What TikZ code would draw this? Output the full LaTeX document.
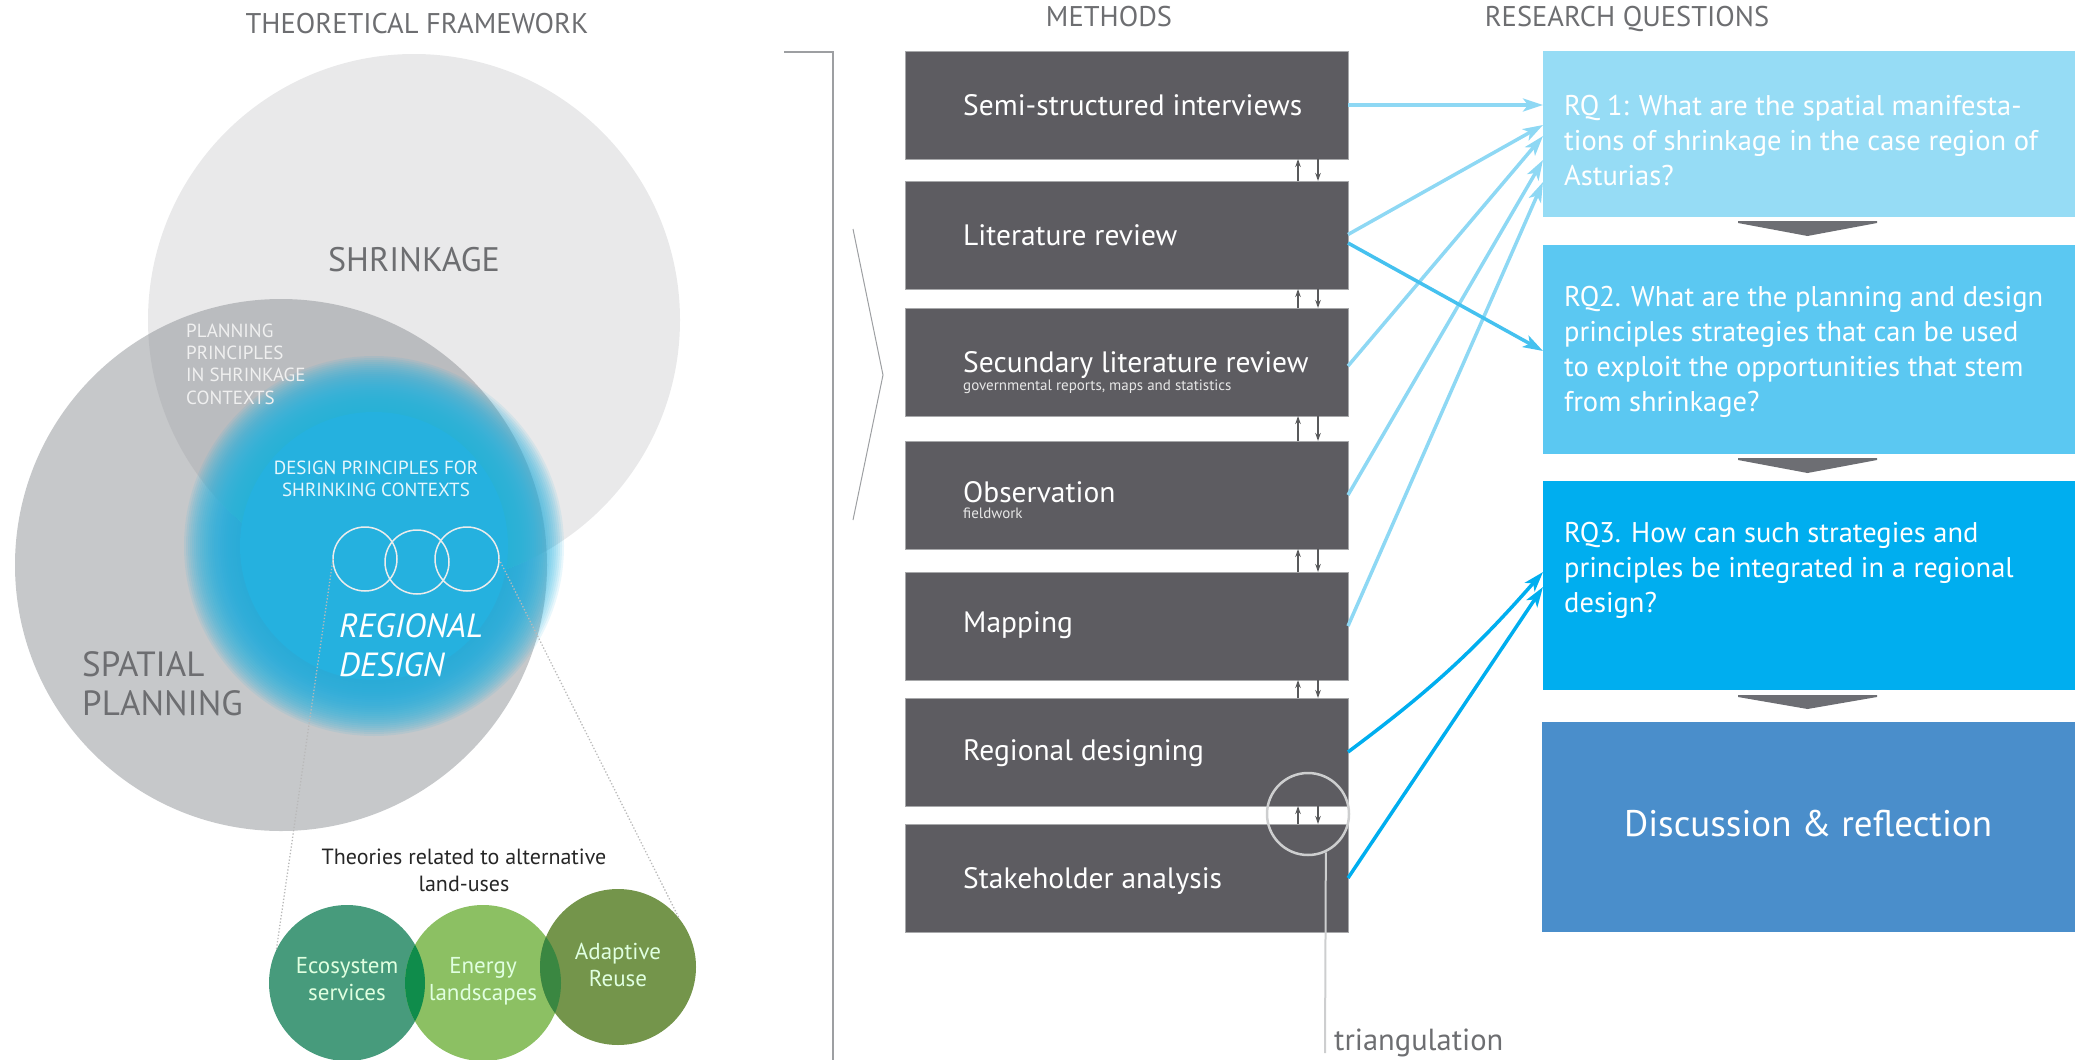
\documentclass[tikz,border=0pt]{standalone}
\usepackage{fontspec}
\setmainfont{PT Sans}
\usetikzlibrary{arrows.meta,calc}
\definecolor{hdr}{HTML}{6D6E71}
\definecolor{mgray}{HTML}{5D5C61}
\definecolor{mborder}{HTML}{A7A8AA}
\definecolor{rqa}{HTML}{96DCF5}
\definecolor{rqb}{HTML}{5BC8F2}
\definecolor{rqc}{HTML}{00AEEF}
\definecolor{rqd}{HTML}{4A8ECB}
\definecolor{arra}{HTML}{8ED8F4}
\definecolor{arrb}{HTML}{45C1EF}
\definecolor{arrc}{HTML}{00AEEF}
\definecolor{tricol}{HTML}{6D6E73}
\definecolor{shrink}{HTML}{E9E9EA}
\definecolor{spat}{HTML}{8D9195}
\definecolor{glowc}{HTML}{25B1DF}
\definecolor{eco}{HTML}{479B7C}
\definecolor{ene}{HTML}{8CC063}
\definecolor{ada}{HTML}{74954B}
\definecolor{ecoene}{HTML}{0F8C4B}
\definecolor{eneada}{HTML}{3A8741}
\definecolor{smallarr}{HTML}{58595B}
\definecolor{triang}{HTML}{CDCECF}
\definecolor{brk}{HTML}{9D9FA2}
\begin{document}
\begin{tikzpicture}[x=1pt,y=-1pt,
  hdrtext/.style={font=\fontsize{28.5}{30}\selectfont, text=hdr, inner sep=0, anchor=base},
  mbox/.style={fill=mgray, draw=mborder, line width=0.8pt, minimum width=443pt, minimum height=108pt, inner sep=0, outer sep=0, anchor=north west},
  mtext/.style={font=\fontsize{29.5}{32}\selectfont, text=white, inner sep=0, anchor=base west},
  subtext/.style={font=\fontsize{15}{16}\selectfont, text=white!85!mgray, inner sep=0, anchor=base west},
  rqbox/.style={minimum width=532pt, inner sep=0, outer sep=0, anchor=north west},
  rqtext/.style={font=\fontsize{28.5}{35}\selectfont, text=white, inner sep=0, anchor=base west, align=left},
  conn/.style={line width=3.5pt, -{Stealth[length=20pt,width=13pt,inset=5pt]}},
  smallarrow/.style={smallarr, line width=1.5pt, -{Stealth[length=8pt,width=5.5pt]}},
  trimark/.style={fill=tricol},
  gcirc/.style={circle, minimum size=156pt, inner sep=0, outer sep=0},
  gtext/.style={font=\fontsize{23}{26.5}\selectfont, text=white!88!green, inner sep=0, anchor=base, align=center},
  smallc/.style={circle, draw=white!85!gray, line width=1.5pt, minimum size=64pt, inner sep=0, outer sep=0},
  dotline/.style={draw=gray!55, dotted, line width=1.3pt},
  venntext/.style={inner sep=0, anchor=base west, align=left}
]
\useasboundingbox (0,0) rectangle (2075,1060);

% ---------- headers ----------
\node[hdrtext] (h1) at (417,34) {THEORETICAL FRAMEWORK};
\node[hdrtext] (h2) at (1109,27) {METHODS};
\node[hdrtext] (h3) at (1627,26) {RESEARCH QUESTIONS};

% ---------- Venn ----------
\fill[shrink] (414,320) circle (266pt);
\fill[spat, opacity=0.5] (281,565) circle (266pt);
\foreach \i in {0,...,29} {
  \pgfmathsetmacro\rr{132+2*\i}
  \fill[glowc, opacity=0.1] (374,546) circle (\rr pt);
}
\fill[glowc] (374,546) circle (134pt);

\node[venntext, font=\fontsize{34}{34}\selectfont, text=hdr, anchor=base] (shr) at (414,271) {SHRINKAGE};
% multi-line nodes: base anchor = baseline of the last line
\node[venntext, font=\fontsize{19}{22.2}\selectfont, text=white!88!gray] (ppt) at (186,404) {PLANNING\\PRINCIPLES\\IN SHRINKAGE\\CONTEXTS};
\node[venntext, font=\fontsize{19}{22}\selectfont, text=white!90!cyan, anchor=base, align=center] (dpt) at (376,496) {DESIGN PRINCIPLES FOR\\SHRINKING CONTEXTS};
\node[venntext, font=\fontsize{33.5}{39}\selectfont\itshape, text=white] (rd) at (339,676) {REGIONAL\\DESIGN};
\node[venntext, font=\fontsize{35}{39}\selectfont, text=hdr] (sp) at (82,715) {SPATIAL\\PLANNING};

\node[smallc] (c1) at (365,559) {};
\node[smallc] (c2) at (417,562) {};
\node[smallc] (c3) at (467,559) {};

% ---------- green circles ----------
\node[gcirc, fill=eco] (eco) at (347,983) {};
\node[gcirc, fill=ene] (ene) at (483,983) {};
\node[gcirc, fill=ada] (ada) at (618,967) {};
\begin{scope}
  \clip (347,983) circle (78pt);
  \fill[ecoene] (483,983) circle (78pt);
\end{scope}
\begin{scope}
  \clip (483,983) circle (78pt);
  \fill[eneada] (618,967) circle (78pt);
\end{scope}
\node[gtext] (ecot) at (347,1000) {Ecosystem\\services};
\node[gtext] (enet) at (483,1000) {Energy\\landscapes};
\node[gtext] (adat) at (618,986) {Adaptive\\Reuse};
\node[gtext, text=black!85, font=\fontsize{22}{27}\selectfont] (theo) at (464,891) {Theories related to alternative\\land-uses};

\draw[dotline] (c1.west) -- (eco.155);
\draw[dotline] (c3.east) -- (ada.38);

% ---------- bracket and chevron ----------
\draw[brk, line width=2pt] (784,52) -- (833,52) -- (833,1062);
\draw[brk, line width=1pt] (853,229) -- (883,375) -- (853,520);

% ---------- methods ----------
\node[mbox] (m1) at (905,51) {};
\node[mbox] (m2) at (905,181) {};
\node[mbox] (m3) at (905,308) {};
\node[mbox] (m4) at (905,441) {};
\node[mbox] (m5) at (905,572) {};
\node[mbox] (m6) at (905,698) {};
\node[mbox] (m7) at (905,824) {};

\node[mtext] (m1t) at (963,115) {Semi-structured interviews};
\node[mtext] (m2t) at (963,245) {Literature review};
\node[mtext] (m3t) at (963,372) {Secundary literature review};
\node[subtext] (m3s) at (963,390) {governmental reports, maps and statistics};
\node[mtext] (m4t) at (963,502) {Observation};
\node[subtext] (m4s) at (963,518) {fieldwork};
\node[mtext] (m5t) at (963,632) {Mapping};
\node[mtext] (m6t) at (963,760) {Regional designing};
\node[mtext] (m7t) at (963,888) {Stakeholder analysis};

\foreach \a/\b in {m1/m2,m2/m3,m3/m4,m4/m5,m5/m6,m6/m7} {
  \draw[smallarrow] ($(\b.north east)+(-50,0)$) -- ($(\a.south east)+(-50,0)$);
  \draw[smallarrow] ($(\a.south east)+(-30,0)$) -- ($(\b.north east)+(-30,0)$);
}

% triangulation
\node[circle, draw=triang, line width=2.5pt, minimum size=82pt, inner sep=0] (tri) at (1308,814) {};
\coordinate (trib) at (1325,1053);
\draw[triang, line width=2pt] (tri.-65) -- (trib);
\node[font=\fontsize{30.5}{32}\selectfont, text=hdr, inner sep=0, anchor=base west] (trit) at (1334,1050) {triangulation};

% ---------- research questions ----------
\node[rqbox, fill=rqa, minimum height=166pt] (rq1) at (1543,51) {};
\node[rqbox, fill=rqb, minimum height=209pt] (rq2) at (1543,245) {};
\node[rqbox, fill=rqc, minimum height=209pt] (rq3) at (1543,481) {};
\node[rqbox, fill=rqd, minimum height=210pt, minimum width=533pt] (rq4) at (1542,722) {};

\node[rqtext] (rq1t) at (1564,185) {RQ 1: What are the spatial manifesta-\\tions of shrinkage in the case region of\\Asturias?};
\node[rqtext] (rq2t) at (1564,411) {RQ2. What are the planning and design\\principles strategies that can be used\\to exploit the opportunities that stem\\from shrinkage?};
\node[rqtext] (rq3t) at (1564,612) {RQ3. How can such strategies and\\principles be integrated in a regional\\design?};
\node[font=\fontsize{37}{40}\selectfont, text=white, inner sep=0, anchor=base] (rq4t) at (1808,836) {Discussion \& reflection};

\fill[trimark] (1738,221) -- (1877,221) -- (1877,223) -- (1807.5,236) -- (1738,223) -- cycle;
\fill[trimark] (1738,458) -- (1877,458) -- (1877,460) -- (1807.5,473) -- (1738,460) -- cycle;
\fill[trimark] (1738,695) -- (1877,695) -- (1877,697) -- (1807.5,709) -- (1738,697) -- cycle;

% ---------- connectors ----------
\draw[conn, arra] (m1.east) -- ($(rq1.west)+(0,-29)$);
\draw[conn, arra] ($(m2.east)+(0,-0.5)$) -- ($(rq1.west)+(0,-9)$);
\draw[conn, arra] ($(m3.east)+(0,4)$) -- ($(rq1.west)+(0,2)$);
\draw[conn, arra] (m4.east) -- ($(rq1.west)+(0,26)$);
\draw[conn, arra] (m5.east) -- ($(rq1.west)+(0,48)$);
\draw[conn, arrb] ($(m2.east)+(0,8)$) -- ($(rq2.west)+(0,1.5)$);
\draw[conn, arrc] (m6.east) to[bend right=6] ($(rq3.west)+(0,-13.5)$);
\draw[conn, arrc] (m7.east) -- ($(rq3.west)+(0,1.5)$);
\end{tikzpicture}
\end{document}
